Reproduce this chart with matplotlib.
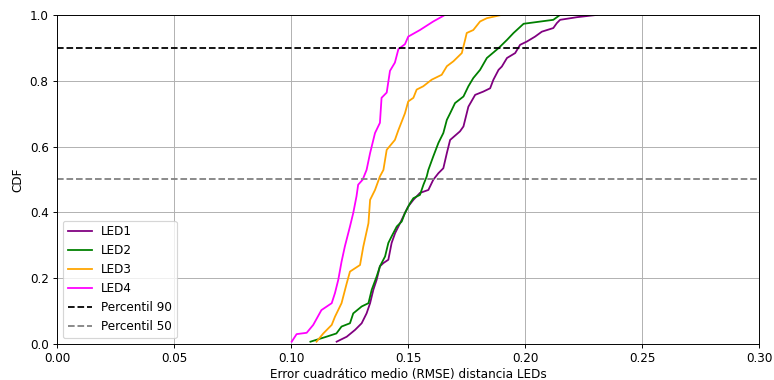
import numpy as np
import matplotlib.pyplot as plt

# RMSE (sorted) and empirical CDF per LED
led1_x   = [0.1195, 0.1238, 0.1274, 0.1302, 0.1323, 0.1338, 0.1352, 0.1366, 0.1380, 0.1395, 0.1416, 0.1430,
            0.1445, 0.1466, 0.1487, 0.1501, 0.1523, 0.1551, 0.1587, 0.1608, 0.1630, 0.1651, 0.1666, 0.1680,
            0.1722, 0.1737, 0.1744, 0.1758, 0.1787, 0.1822, 0.1851, 0.1865, 0.1887, 0.1901, 0.1923, 0.1958,
            0.1979, 0.2008, 0.2043, 0.2072, 0.2121, 0.2136, 0.2150, 0.2222, 0.2308]
led1_cdf = [0.007, 0.022, 0.043, 0.063, 0.093, 0.124, 0.165, 0.195, 0.236, 0.246, 0.256, 0.307,
            0.337, 0.367, 0.398, 0.418, 0.438, 0.459, 0.468, 0.499, 0.519, 0.534, 0.580, 0.620,
            0.646, 0.661, 0.681, 0.721, 0.757, 0.767, 0.777, 0.803, 0.833, 0.843, 0.869, 0.884,
            0.909, 0.919, 0.934, 0.949, 0.960, 0.975, 0.985, 0.993, 1.0]

led2_x   = [0.1083, 0.1151, 0.1194, 0.1216, 0.1252, 0.1266, 0.1302, 0.1331, 0.1345, 0.1366, 0.1380, 0.1402,
            0.1416, 0.1430, 0.1452, 0.1473, 0.1487, 0.1509, 0.1523, 0.1551, 0.1566, 0.1580, 0.1587, 0.1608,
            0.1630, 0.1651, 0.1666, 0.1680, 0.1701, 0.1737, 0.1758, 0.1779, 0.1808, 0.1837, 0.1887, 0.1923,
            0.1951, 0.1994, 0.2121, 0.2150]
led2_cdf = [0.007, 0.022, 0.032, 0.053, 0.063, 0.093, 0.114, 0.124, 0.165, 0.205, 0.236, 0.266,
            0.307, 0.327, 0.357, 0.372, 0.398, 0.428, 0.443, 0.453, 0.484, 0.509, 0.529, 0.570,
            0.611, 0.641, 0.681, 0.701, 0.732, 0.752, 0.783, 0.808, 0.833, 0.869, 0.899, 0.924,
            0.945, 0.973, 0.985, 1.0]

led3_x   = [0.1109, 0.1138, 0.1174, 0.1188, 0.1216, 0.1238, 0.1252, 0.1295, 0.1309, 0.1331, 0.1338, 0.1359,
            0.1380, 0.1395, 0.1409, 0.1444, 0.1459, 0.1487, 0.1501, 0.1523, 0.1537, 0.1565, 0.1601, 0.1644,
            0.1666, 0.1694, 0.1730, 0.1744, 0.1751, 0.1779, 0.1808, 0.1837, 0.1901]
led3_cdf = [0.007, 0.032, 0.058, 0.083, 0.124, 0.184, 0.220, 0.240, 0.296, 0.367, 0.438, 0.468,
            0.509, 0.529, 0.590, 0.620, 0.650, 0.701, 0.737, 0.748, 0.773, 0.783, 0.803, 0.818,
            0.844, 0.859, 0.884, 0.924, 0.945, 0.954, 0.980, 0.990, 1.0]

led4_x   = [0.1003, 0.1024, 0.1067, 0.1095, 0.1130, 0.1174, 0.1188, 0.1202, 0.1216, 0.1230, 0.1252, 0.1266,
            0.1280, 0.1287, 0.1306, 0.1323, 0.1338, 0.1359, 0.1380, 0.1387, 0.1409, 0.1423, 0.1444, 0.1459,
            0.1487, 0.1501, 0.1551, 0.1608, 0.1651]
led4_cdf = [0.007, 0.030, 0.034, 0.058, 0.103, 0.124, 0.155, 0.195, 0.250, 0.296, 0.357, 0.398,
            0.449, 0.484, 0.499, 0.529, 0.580, 0.641, 0.672, 0.748, 0.764, 0.830, 0.855, 0.896,
            0.911, 0.934, 0.954, 0.980, 0.997]

# 900x442 canvas rendered at 86 dpi -> 774x380 px
fig = plt.figure(figsize=(9.0, 4.42), dpi=86)
ax = fig.add_axes([57/774, 1 - 344/380, (759-57)/774, (344-15)/380])

ax.plot(led1_x, led1_cdf, color='purple', label='LED1')
ax.plot(led2_x, led2_cdf, color='green', label='LED2')
ax.plot(led3_x, led3_cdf, color='orange', label='LED3')
ax.plot(led4_x, led4_cdf, color='magenta', label='LED4')
ax.axhline(0.9, color='black', linestyle='--', label='Percentil 90')
ax.axhline(0.5, color='gray', linestyle='--', label='Percentil 50')

ax.set_xlim(0, 0.30)
ax.set_ylim(0, 1)
ax.set_xticks(np.arange(0, 0.31, 0.05))
ax.set_xlabel('Error cuadrático medio (RMSE) distancia LEDs', labelpad=2.5)
ax.set_ylabel('CDF')
ax.grid()
ax.legend(loc='lower left')

plt.savefig('out.png', dpi=86)
